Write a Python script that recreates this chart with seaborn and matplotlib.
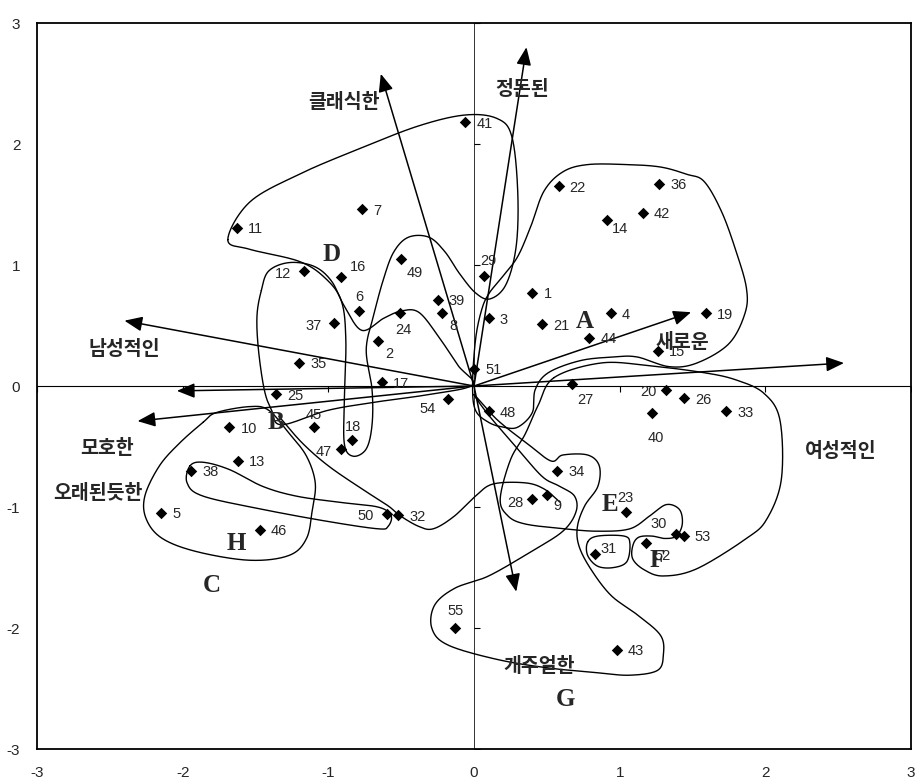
import numpy as np
import pandas as pd
import matplotlib
matplotlib.use('Agg')
import matplotlib.pyplot as plt
import seaborn as sns

# Product positions (ids 1..55)
point_ids = list(range(1, 56))
point_x = [0.40, -0.66, 0.10, 0.94, -2.15, -0.79, -0.77, -0.22, 0.50, -1.68,
           -1.63, -1.17, -1.62, 0.91, 1.26, -0.91, -0.63, -0.84, 1.59, 1.32,
           0.47, 0.58, 1.04, -0.51, -1.36, 1.44, 0.67, 0.40, 0.07, 1.39,
           0.83, -0.52, 1.73, 0.57, -1.20, 1.27, -0.96, -1.94, -0.25, 1.22,
           -0.06, 1.16, 0.98, 0.79, -1.10, -1.47, -0.91, 0.10, -0.50, -0.60,
           0.00, 1.18, 1.44, -0.18, -0.13]
point_y = [0.77, 0.37, 0.56, 0.60, -1.05, 0.62, 1.46, 0.60, -0.90, -0.34,
           1.31, 0.95, -0.62, 1.37, 0.29, 0.90, 0.03, -0.45, 0.60, -0.03,
           0.51, 1.65, -1.04, 0.60, -0.07, -0.10, 0.02, -0.93, 0.91, -1.22,
           -1.39, -1.07, -0.21, -0.70, 0.19, 1.67, 0.52, -0.70, 0.71, -0.22,
           2.18, 1.43, -2.18, 0.40, -0.34, -1.19, -0.52, -0.21, 1.05, -1.06,
           0.14, -1.30, -1.24, -0.11, -2.00]

# Attribute vectors
attr_names = ['클래식한', '정돈된', '새로운', '여성적인', '개주얼한', '남성적인', '오래된듯한', '모호한']
attr_x = [-0.64, 0.36, 1.49, 2.54, 0.29, -2.40, -2.04, -2.31]
attr_y = [2.58, 2.80, 0.61, 0.19, -1.70, 0.54, -0.04, -0.29]
attr_label_x = [-0.89, 0.33, 1.43, 2.52, 0.45, -2.40, -2.58, -2.52]
attr_label_y = [2.34, 2.45, 0.36, -0.54, -2.32, 0.30, -0.89, -0.52]

# Cluster letters
group_names = ['A', 'B', 'C', 'D', 'E', 'F', 'G', 'H']
group_x = [0.76, -1.36, -1.80, -0.98, 0.93, 1.26, 0.63, -1.63]
group_y = [0.53, -0.30, -1.65, 1.09, -0.98, -1.44, -2.59, -1.30]

# Hand-drawn cluster outlines (closed)
top_x = [-1.69, -1.54, -1.20, -0.79, -0.38, -0.06, 0.16, 0.26, 0.30, 0.29, 0.22, 0.11,
         0.01, -0.10, -0.20, -0.31, -0.45, -0.55, -0.62, -0.69, -0.74, -0.70, -0.70,
         -0.74, -0.83, -0.89, -0.89, -0.88, -0.91, -1.02, -1.20, -1.54]
top_y = [1.21, 1.52, 1.75, 1.96, 2.15, 2.24, 2.21, 2.06, 1.61, 1.16, 0.84, 0.72,
         0.77, 0.93, 1.11, 1.23, 1.23, 1.11, 0.89, 0.58, 0.30, -0.03, -0.32,
         -0.52, -0.58, -0.48, -0.11, 0.38, 0.70, 0.89, 1.03, 1.13]
mid_x = [-1.46, -1.41, -1.27, -1.10, -0.98, -0.89, -0.77, -0.62, -0.50, -0.38, -0.25,
         -0.11, -0.01, -0.31, -0.66, -1.00, -1.32, -1.39, -1.44, -1.48, -1.49]
mid_y = [0.79, 0.95, 1.02, 0.99, 0.87, 0.66, 0.46, 0.56, 0.62, 0.61, 0.42,
         0.17, 0.01, -0.07, -0.13, -0.20, -0.32, -0.20, -0.03, 0.30, 0.58]
c_x = [-1.86, -1.77, -1.54, -1.41, -1.27, -1.15, -1.09, -1.11, -1.15, -1.27, -1.54,
       -1.90, -2.14, -2.25, -2.26, -2.16, -2.02]
c_y = [-0.30, -0.22, -0.17, -0.20, -0.39, -0.58, -0.80, -1.02, -1.26, -1.40, -1.44,
       -1.37, -1.26, -1.10, -0.91, -0.66, -0.47]
h_x = [-1.95, -1.86, -1.68, -1.45, -1.22, -0.93, -0.66, -0.57, -0.59, -0.66, -1.00,
       -1.45, -1.86, -1.97]
h_y = [-0.66, -0.63, -0.69, -0.83, -0.91, -0.96, -1.00, -1.07, -1.16, -1.18, -1.12,
       -1.02, -0.91, -0.80]
a_x = [0.10, 0.20, 0.30, 0.39, 0.48, 0.61, 0.78, 1.05, 1.28, 1.46, 1.58, 1.70, 1.80,
       1.87, 1.86, 1.75, 1.53, 1.34, 1.12, 0.96, 0.73, 0.51, 0.42, 0.40, 0.30, 0.20,
       0.10, 0.01, -0.01, 0.01, 0.05]
a_y = [0.76, 0.91, 1.07, 1.32, 1.61, 1.77, 1.83, 1.83, 1.81, 1.75, 1.69, 1.44, 1.11,
       0.81, 0.60, 0.35, 0.19, 0.16, 0.24, 0.24, 0.21, 0.11, -0.03, -0.22, -0.34, -0.34,
       -0.30, -0.20, 0.01, 0.38, 0.62]
e_x = [0.55, 0.87, 1.19, 1.58, 1.80, 1.99, 2.10, 2.11, 2.01, 1.87, 1.53, 1.30, 1.17,
       1.09, 1.09, 1.13, 1.22, 1.31, 1.39, 1.43, 1.41, 1.32, 1.21, 1.07, 0.85, 0.62,
       0.35, 0.23, 0.18, 0.25, 0.35, 0.44]
e_y = [0.07, 0.19, 0.17, 0.11, 0.05, -0.06, -0.28, -0.77, -1.10, -1.26, -1.51, -1.57,
       -1.52, -1.43, -1.32, -1.25, -1.24, -1.26, -1.24, -1.14, -1.02, -0.98, -1.07, -1.18,
       -1.20, -1.18, -1.14, -1.07, -0.93, -0.61, -0.40, -0.16]
f_x = [0.78, 0.85, 1.03, 1.07, 1.05, 0.96, 0.85, 0.78]
f_y = [-1.29, -1.24, -1.24, -1.30, -1.45, -1.50, -1.49, -1.40]
g_x = [0.00, 0.16, 0.37, 0.53, 0.61, 0.78, 0.86, 0.85, 0.76, 0.71, 0.72, 0.80, 0.94,
       1.12, 1.28, 1.30, 1.26, 1.07, 0.85, 0.51, 0.16, -0.18, -0.29, -0.27, -0.13,
       0.10, 0.39, 0.61, 0.70, 0.69, 0.59, 0.47, 0.30, 0.10]
g_y = [-0.07, -0.28, -0.48, -0.62, -0.57, -0.57, -0.66, -0.83, -0.99, -1.16, -1.32,
       -1.51, -1.73, -1.89, -2.06, -2.22, -2.35, -2.39, -2.37, -2.33, -2.26, -2.14,
       -2.00, -1.81, -1.67, -1.57, -1.37, -1.20, -1.04, -0.91, -0.83, -0.75, -0.52, -0.24]
# Open stroke from B down to 32 and over 28
b_x = [-1.34, -1.18, -1.00, -0.77, -0.59, -0.51, -0.38, -0.28, -0.14, 0.01, 0.13,
       0.35, 0.48, 0.59]
b_y = [-0.25, -0.47, -0.66, -0.85, -0.99, -1.07, -1.16, -1.18, -1.08, -0.91, -0.81,
       -0.80, -0.85, -0.96]

# label placement for point ids: (dx, dy in points, ha)
label_pos = {12: (-9, -2, 'right'), 14: (4, -6, 'left'), 16: (6, 7, 'left'),
             29: (3, 11, 'center'), 6: (0, 10, 'center'), 49: (4, -10, 'left'),
             8: (5, -9, 'left'), 24: (-3, -12, 'left'), 37: (-9, -2, 'right'),
             2: (5, -9, 'left'), 54: (-9, -7, 'right'), 45: (0, 9, 'center'),
             18: (1, 10, 'center'), 47: (-7, -2, 'right'), 50: (-9, -1, 'right'),
             27: (10, -12, 'center'), 20: (-7, -2, 'right'), 40: (3, -18, 'center'),
             28: (-6, -3, 'right'), 9: (5, -8, 'left'), 23: (0, 10, 'center'),
             30: (-13, 7, 'center'), 52: (12, -9, 'center'), 31: (4, 4, 'left'),
             55: (0, 12, 'center')}


def catmull(xs, ys, closed=True, n=24):
    pts = np.column_stack([xs, ys]).astype(float)
    if not closed:
        pts = np.vstack([2 * pts[0] - pts[1], pts, 2 * pts[-1] - pts[-2]])
    m = len(pts)
    rng = range(m) if closed else range(1, m - 2)
    t = np.linspace(0, 1, n, endpoint=False)[:, None]
    segs = []
    for i in rng:
        p0, p1, p2, p3 = pts[i - 1], pts[i], pts[(i + 1) % m], pts[(i + 2) % m]
        segs.append(0.5 * (2 * p1 + (-p0 + p2) * t + (2 * p0 - 5 * p1 + 4 * p2 - p3) * t ** 2
                           + (-p0 + 3 * p1 - 3 * p2 + p3) * t ** 3))
    last = segs[0][:1] if closed else pts[-2][None, :]
    out = np.vstack(segs + [last])
    return out[:, 0], out[:, 1]


sns.set_style('white')
plt.rcParams['font.family'] = ['Liberation Sans', 'Noto Sans CJK KR', 'DejaVu Sans']
plt.rcParams['axes.unicode_minus'] = False

fig = plt.figure(figsize=(9.19, 7.83), dpi=100)
ax = fig.add_axes([0.0403, 0.0434, 0.9510, 0.9272])

# central axes with small ticks
ax.axhline(0, color='black', lw=0.8, zorder=1)
ax.axvline(0, color='#333333', lw=0.7, zorder=1)
ticks = [-3, -2, -1, 0, 1, 2, 3]
ax.plot(ticks, [0] * len(ticks), ls='', marker=3, ms=4, mew=0.8, color='black')
ax.plot([0] * len(ticks), ticks, ls='', marker=1, ms=4, mew=0.8, color='black')

# cluster outlines
for cx, cy in [(top_x, top_y), (mid_x, mid_y), (c_x, c_y), (h_x, h_y), (a_x, a_y),
               (e_x, e_y), (f_x, f_y), (g_x, g_y)]:
    sx, sy = catmull(cx, cy)
    ax.plot(sx, sy, color='black', lw=1.0, zorder=2)
sx, sy = catmull(b_x, b_y, closed=False)
ax.plot(sx, sy, color='black', lw=1.0, zorder=2)

# attribute arrows
for name, vx, vy, lx, ly in zip(attr_names, attr_x, attr_y, attr_label_x, attr_label_y):
    ax.annotate('', xy=(vx, vy), xytext=(0, 0),
                arrowprops=dict(arrowstyle='-|>,head_length=0.6,head_width=0.25',
                                mutation_scale=18, color='black', lw=1.1,
                                shrinkA=0, shrinkB=0), zorder=3)
    ax.text(lx, ly, name, fontsize=14, fontweight='bold', ha='center', va='center',
            family=['Noto Sans CJK KR', 'DejaVu Sans'], zorder=4)

# points
df = pd.DataFrame({'id': point_ids, 'x': point_x, 'y': point_y})
sns.scatterplot(data=df, x='x', y='y', marker='D', s=34, color='black',
                edgecolor='black', linewidth=0, ax=ax, zorder=5)
for pid, px, py in zip(point_ids, point_x, point_y):
    dx, dy, ha = label_pos.get(pid, (8, -1, 'left'))
    ax.annotate(str(pid), (px, py), xytext=(dx, dy), textcoords='offset points',
                ha=ha, va='center', fontsize=10.5, zorder=6)

# cluster letters
for g, gx, gy in zip(group_names, group_x, group_y):
    ax.text(gx, gy, g, fontsize=18, fontweight='bold', family='Liberation Serif',
            ha='center', va='center', zorder=6)

ax.set_xlim(-3, 3)
ax.set_ylim(-3, 3)
ax.set_xticks(ticks)
ax.set_yticks(ticks)
ax.set_xticklabels([str(t) for t in ticks], fontsize=11)
ax.set_yticklabels([str(t) for t in ticks], fontsize=11)
ax.tick_params(length=0, pad=12)
ax.set_xlabel('')
ax.set_ylabel('')
for sp in ax.spines.values():
    sp.set_color('black')
    sp.set_linewidth(1.3)

fig.savefig('out.png', dpi=100)
